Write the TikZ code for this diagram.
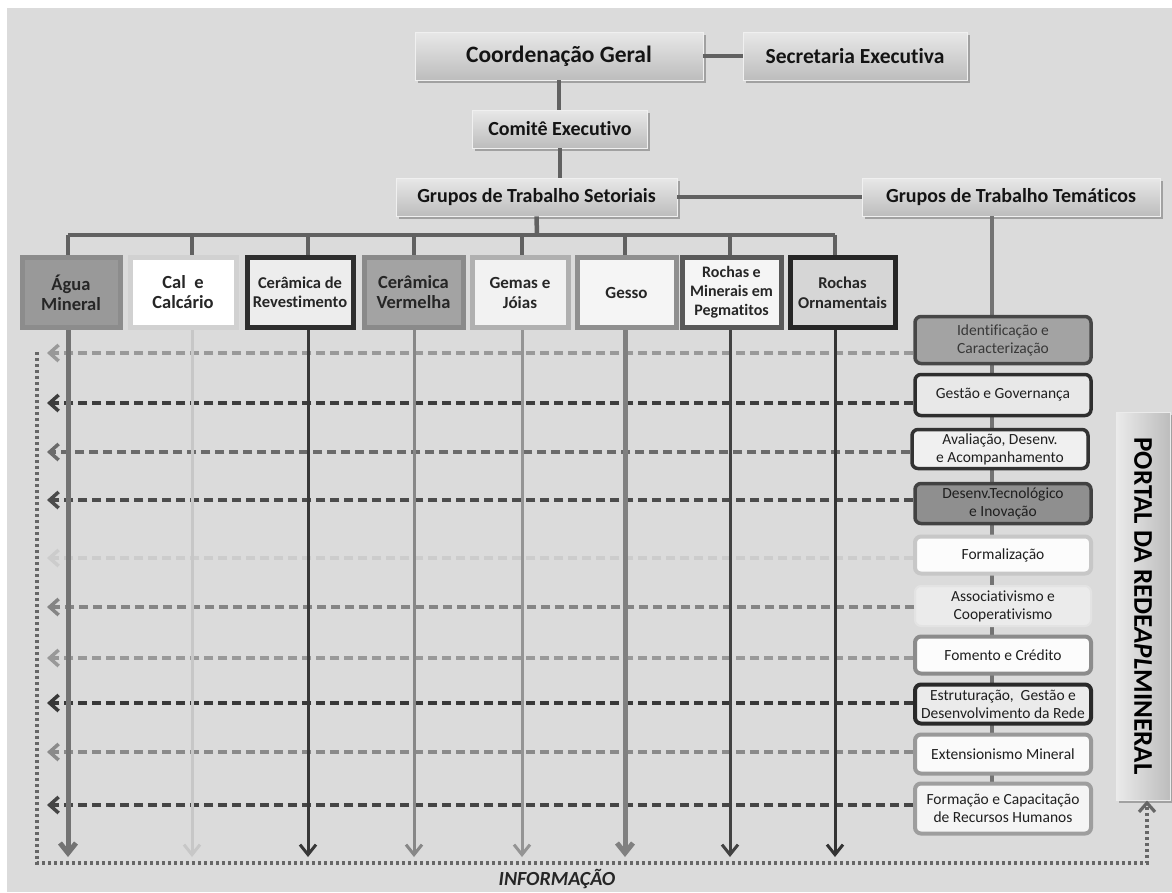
\documentclass[tikz,border=0pt]{standalone}
\usepackage{fontspec}
\setmainfont{Carlito}[Ligatures=NoCommon]
\usetikzlibrary{arrows.meta,shadows}
\begin{document}
\begin{tikzpicture}[x=1pt,y=-1pt,
  conn/.style={draw=black!62, line width=4.5pt},
  topbox/.style={draw=black!6, line width=0.8pt, top color=black!9, bottom color=black!26,
    drop shadow={shadow xshift=2.5pt,shadow yshift=-3pt,opacity=0.4,fill=black!70},
    text=black!92, inner sep=0pt},
  sbox/.style={line width=5pt, inner sep=0pt, align=center, minimum height=70pt,
    font=\bfseries\fontsize{18.5}{20}\selectfont, text=black!85},
  tbox/.style={rounded corners=6pt, line width=3.5pt, inner sep=0pt, align=center,
    minimum width=176pt, font=\fontsize{15.5}{18}\selectfont, text=black!88},
  sarrow/.style={-{Straight Barb[length=10pt,width=16pt]}, line width=3pt},
  darrow/.style={-{Straight Barb[length=9pt,width=16pt]}, line width=3.5pt, dash pattern=on 9pt off 5pt},
  dotline/.style={-{Straight Barb[length=9pt,width=16pt]}, line width=3.2pt, draw=black!60, dash pattern=on 3pt off 3pt}
]
\useasboundingbox (0,0) rectangle (1172,892);
\fill[black!14] (7,8) rectangle (1172,892);

% ---------- top hierarchy ----------
\node[topbox, minimum width=288pt, minimum height=48pt, font=\bfseries\fontsize{23.5}{26}\selectfont] (cg) at (559,56) {Coordenação Geral};
\node[topbox, minimum width=224pt, minimum height=48pt, font=\bfseries\fontsize{21.5}{24}\selectfont] (se) at (855,56) {Secretaria Executiva};
\node[topbox, minimum width=175pt, minimum height=38pt, font=\bfseries\fontsize{20}{22}\selectfont] (ce) at (560,129) {Comitê Executivo};
\node[topbox, minimum width=281pt, minimum height=38pt, font=\bfseries\fontsize{20}{22}\selectfont] (gts) at (536.5,197) {Grupos de Trabalho Setoriais};
\node[topbox, minimum width=298pt, minimum height=38pt, font=\bfseries\fontsize{20}{22}\selectfont] (gtt) at (1011,197) {Grupos de Trabalho Temáticos};

% ---------- coordinates ----------
\coordinate (bar) at (537,235);
\coordinate (d1) at (68,235);
\coordinate (d2) at (192,235);
\coordinate (d3) at (308,235);
\coordinate (d4) at (414,235);
\coordinate (d5) at (522,235);
\coordinate (d6) at (625,235);
\coordinate (d7) at (730,235);
\coordinate (d8) at (835,235);
\coordinate (bot) at (0,857);
\coordinate (tx) at (992,0);
\coordinate (r1) at (47,353);
\coordinate (r2) at (47,403);
\coordinate (r3) at (47,452);
\coordinate (r4) at (47,500);
\coordinate (r5) at (47,558);
\coordinate (r6) at (47,607);
\coordinate (r7) at (47,658);
\coordinate (r8) at (47,703);
\coordinate (r9) at (47,752);
\coordinate (r10) at (47,805);
\coordinate (dtop) at (37,352);
\coordinate (dbl) at (37,863);
\coordinate (dbr) at (1147,863);

% ---------- connectors ----------
\draw[conn] (cg.east) -- (se.west);
\draw[conn] (cg.south) -- (cg.south |- ce.north);
\draw[conn] (ce.south) -- (ce.south |- gts.north);
\draw[conn] (gts.east) -- (gtt.west);
\draw[conn] (gts.south) -- (bar);
\draw[conn] (d1) -- (d8);

% ---------- sector boxes ----------
\node[sbox, fill=black!40, draw=black!45, minimum width=98pt] (b1) at (71,292.5) {Água\\Mineral};
\node[sbox, fill=white, draw=black!18, minimum width=106pt] (b2) at (183,292.5) {Cal\ \ e\\Calcário};
\node[sbox, fill=black!7, draw=black!82, minimum width=106pt, font=\bfseries\fontsize{16.5}{19}\selectfont] (b3) at (300,292.5) {Cerâmica de\\Revestimento};
\node[sbox, fill=black!36, draw=black!46, minimum width=99pt] (b4) at (413.5,292.5) {Cerâmica\\Vermelha};
\node[sbox, fill=black!5, draw=black!31, minimum width=96pt, font=\bfseries\fontsize{17}{20}\selectfont] (b5) at (520,292.5) {Gemas e\\Jóias};
\node[sbox, fill=black!4, draw=black!44, minimum width=99pt, font=\bfseries\fontsize{17}{20}\selectfont] (b6) at (626.5,292.5) {Gesso};
\node[sbox, fill=black!4, draw=black!65, minimum width=99pt, font=\bfseries\fontsize{16}{19}\selectfont] (b7) at (731.5,292.5) {Rochas e\\Minerais em\\Pegmatitos};
\node[sbox, fill=black!16, draw=black!85, minimum width=105pt, font=\bfseries\fontsize{16.5}{20}\selectfont] (b8) at (842.5,292.5) {Rochas\\Ornamentais};

\draw[conn] (d1) -- (d1 |- b1.north);
\draw[conn] (d2) -- (d2 |- b2.north);
\draw[conn] (d3) -- (d3 |- b3.north);
\draw[conn] (d4) -- (d4 |- b4.north);
\draw[conn] (d5) -- (d5 |- b5.north);
\draw[conn] (d6) -- (d6 |- b6.north);
\draw[conn] (d7) -- (d7 |- b7.north);
\draw[conn] (d8) -- (d8 |- b8.north);

% ---------- theme boxes ----------
\draw[draw=black!55, line width=4pt] (gtt.south -| tx) -- (tx |- 0,808);
\node[tbox, fill=black!36, draw=black!72, minimum height=47pt, text=black!78] (t1) at (1003,340) {Identificação e\\Caracterização};
\node[tbox, fill=black!9, draw=black!82, minimum height=41pt] (t2) at (1003,395) {Gestão e Governança};
\node[tbox, fill=black!6, draw=black!80, minimum height=39pt] (t3) at (1000,449) {Avaliação, Desenv.\\e Acompanhamento};
\node[tbox, fill=black!44, draw=black!74, minimum height=40pt] (t4) at (1003,503.5) {Desenv.Tecnológico\\e Inovação};
\node[tbox, fill=black!1, draw=black!22, line width=4pt, minimum height=37pt] (t5) at (1003,555) {Formalização};
\node[tbox, fill=black!8, draw=black!11, line width=2pt, minimum height=40pt] (t6) at (1003,606) {Associativismo e\\Cooperativismo};
\node[tbox, fill=black!1, draw=black!45, line width=4pt, minimum height=37pt] (t7) at (1003,655) {Fomento e Crédito};
\node[tbox, fill=black!8, draw=black!84, line width=4pt, minimum height=39pt] (t8) at (1003,704) {Estruturação,\ \ Gestão e\\Desenvolvimento da Rede};
\node[tbox, fill=black!2, draw=black!40, line width=4pt, minimum height=39pt] (t9) at (1003,754) {Extensionismo Mineral};
\node[tbox, fill=black!4, draw=black!38, line width=4pt, minimum height=50pt] (t10) at (1003,808.5) {Formação e Capacitação\\de Recursos Humanos};

% ---------- dashed information arrows ----------
\draw[darrow, draw=black!40] (t1.west |- r1) -- (r1);
\draw[darrow, draw=black!76] (t2.west |- r2) -- (r2);
\draw[darrow, draw=black!58] (t3.west |- r3) -- (r3);
\draw[darrow, draw=black!70] (t4.west |- r4) -- (r4);
\draw[darrow, draw=black!20] (t5.west |- r5) -- (r5);
\draw[darrow, draw=black!48] (t6.west |- r6) -- (r6);
\draw[darrow, draw=black!40] (t7.west |- r7) -- (r7);
\draw[darrow, draw=black!78] (t8.west |- r8) -- (r8);
\draw[darrow, draw=black!46] (t9.west |- r9) -- (r9);
\draw[darrow, draw=black!73] (t10.west |- r10) -- (r10);

% ---------- vertical sector arrows ----------
\draw[sarrow, draw=black!55, line width=5pt] (b1.south -| d1) -- (d1 |- bot);
\draw[sarrow, draw=black!22] (b2.south -| d2) -- (d2 |- bot);
\draw[sarrow, draw=black!78] (b3.south -| d3) -- (d3 |- bot);
\draw[sarrow, draw=black!47] (b4.south -| d4) -- (d4 |- bot);
\draw[sarrow, draw=black!42] (b5.south -| d5) -- (d5 |- bot);
\draw[sarrow, draw=black!50, line width=5pt] (b6.south -| d6) -- (d6 |- bot);
\draw[sarrow, draw=black!74] (b7.south -| d7) -- (d7 |- bot);
\draw[sarrow, draw=black!80] (b8.south -| d8) -- (d8 |- bot);

% ---------- portal ----------
\node[draw=black!8, line width=1pt, left color=black!8, right color=black!26, minimum width=54pt, minimum height=388pt, inner sep=0pt,
  drop shadow={shadow xshift=2.5pt,shadow yshift=-3pt,opacity=0.4,fill=black!70}] (portal) at (1143,606)
  {\rotatebox{-90}{\bfseries\fontsize{27}{29}\selectfont PORTAL DA REDE{\itshape APL}MINERAL}};

% ---------- dotted information loop ----------
\draw[dotline] (dtop) -- (dbl) -- (dbr) -- (portal.south -| dbr);
\node[font=\bfseries\itshape\fontsize{20}{22}\selectfont, text=black!85, inner sep=0pt] (info) at (557,879) {INFORMAÇÃO};
\end{tikzpicture}
\end{document}
